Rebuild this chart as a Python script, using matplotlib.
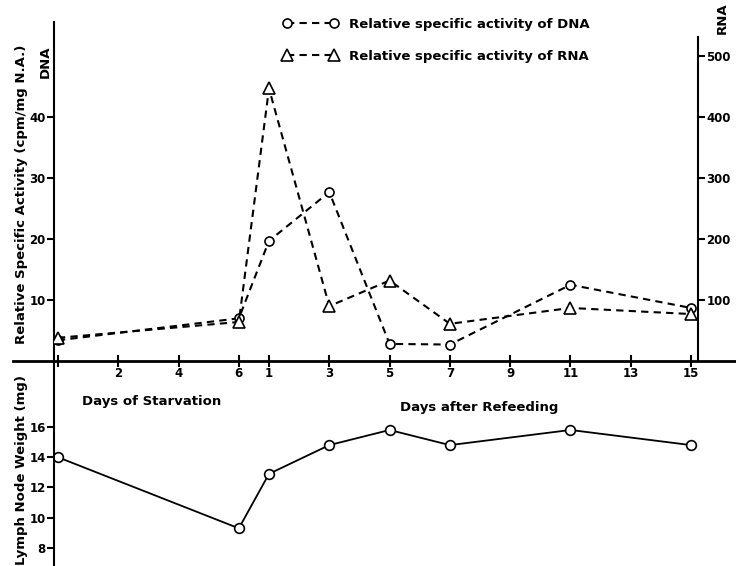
import matplotlib
matplotlib.use('Agg')
import matplotlib.pyplot as plt

plt.rcParams['font.family'] = ['DejaVu Sans']
plt.rcParams['font.weight'] = 'bold'

# x position: starvation day d -> d, refeeding day d -> 6 + d
starve_days = [0, 6]
refeed_days = [1, 3, 5, 7, 11, 15]
x_pos = starve_days + [6 + d for d in refeed_days]

dna_activity = [3.4, 7.0, 19.7, 27.7, 2.8, 2.7, 12.5, 8.7]
rna_activity = [38, 64, 447, 90, 132, 61, 87, 77]
node_weight = [14.0, 9.3, 12.9, 14.8, 15.8, 14.8, 15.8, 14.8]

x_ticks = [0, 2, 4, 6, 7, 9, 11, 13, 15, 17, 19, 21]
x_ticklabels = ['', '2', '4', '6', '1', '3', '5', '7', '9', '11', '13', '15']
dna_ticks = [10, 20, 30, 40]
rna_ticks = [100, 200, 300, 400, 500]
weight_ticks = [8, 10, 12, 14, 16]

fig = plt.figure(figsize=(7.36, 5.66), dpi=100)
ax = fig.add_axes([0.0734, 0.3622, 0.875, 0.5989])
ax2 = ax.twinx()
axw = fig.add_axes([0.0734, 0.0, 0.875, 0.3622], facecolor='none')

# upper panel: specific activities
l1, = ax.plot(x_pos, dna_activity, color='black', lw=1.5, dashes=(3.5, 2.5),
              marker='o', ms=6.5, mfc='white', mec='black', mew=1.2,
              label='Relative specific activity of DNA')
l2, = ax2.plot(x_pos, rna_activity, color='black', lw=1.5, dashes=(3.5, 2.5),
               marker='^', ms=8.5, mfc='white', mec='black', mew=1.2,
               label='Relative specific activity of RNA')

ax.set_xlim(-0.13, 21.23)
ax.set_ylim(0, 55.6)
ax2.set_ylim(0, 556)

for s in ['top', 'right']:
    ax.spines[s].set_visible(False)
for s in ['top', 'left', 'bottom']:
    ax2.spines[s].set_visible(False)
ax.spines['left'].set_linewidth(1.5)
ax.spines['bottom'].set_linewidth(2)
ax.spines['bottom'].set_bounds(-1.49, 22.5)
ax2.spines['right'].set_linewidth(1.5)
ax2.spines['right'].set_bounds(0, 532)

ax.set_xticks(x_ticks)
ax.set_xticklabels(x_ticklabels)
ax.tick_params(axis='x', direction='inout', length=9, width=1.5, pad=0, labelsize=8.5)
ax.set_yticks(dna_ticks)
ax.tick_params(axis='y', direction='out', length=5, width=1.5, pad=1, labelsize=8.5)
ax2.set_yticks(rna_ticks)
ax2.tick_params(axis='y', direction='out', length=5, width=1.5, pad=1, labelsize=8.5)

ax.set_ylabel('Relative Specific Activity (cpm/mg N.A.)', fontsize=9.5, fontweight='bold')
ax.yaxis.set_label_coords(-0.0404, 0.491)

fig.text(45 / 736, 1 - 62 / 566, 'DNA', rotation=90, ha='center', va='center',
         fontsize=9.5, fontweight='bold')
fig.text(722 / 736, 1 - 18 / 566, 'RNA', rotation=90, ha='center', va='center',
         fontsize=9.5, fontweight='bold')
fig.text(152 / 736, 1 - 401 / 566, 'Days of Starvation', ha='center', va='center',
         fontsize=9.5, fontweight='bold')
fig.text(479 / 736, 1 - 407 / 566, 'Days after Refeeding', ha='center', va='center',
         fontsize=9.5, fontweight='bold')

ax.legend(handles=[l1, l2], loc='upper left', bbox_to_anchor=(276 / 736, 1 - 11 / 566),
          bbox_transform=fig.transFigure, frameon=False, borderpad=0, numpoints=2,
          handlelength=4.23, handletextpad=0.8, labelspacing=1.45, fontsize=9.5)

# lower panel: lymph node weight
axw.plot(x_pos, node_weight, color='black', lw=1.3, marker='o', ms=7,
         mfc='white', mec='black', mew=1.2)
axw.set_xlim(-0.13, 21.23)
axw.set_ylim(6.81, 20.36)
for s in ['top', 'right', 'bottom']:
    axw.spines[s].set_visible(False)
axw.spines['left'].set_linewidth(1.5)
axw.set_xticks([])
axw.set_yticks(weight_ticks)
axw.tick_params(axis='y', direction='out', length=5, width=1.5, pad=1, labelsize=8.5)
axw.set_ylabel('Lymph Node Weight (mg)', fontsize=9.5, fontweight='bold')
axw.yaxis.set_label_coords(-0.0404, 0.468)

fig.savefig('out.png', dpi=100)
